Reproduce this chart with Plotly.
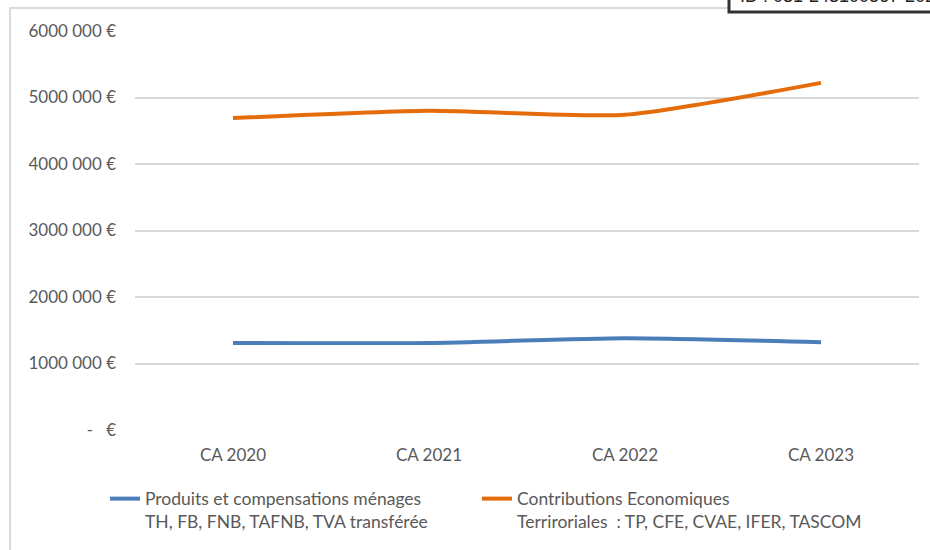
import plotly.graph_objects as go

categories = ["CA 2020", "CA 2021", "CA 2022", "CA 2023"]
menages = [1310000, 1310000, 1380000, 1320000]
economiques = [4690000, 4800000, 4740000, 5220000]
tick_vals = [0, 1000000, 2000000, 3000000, 4000000, 5000000, 6000000]
tick_text = ["-   €", "1000 000 €", "2000 000 €", "3000 000 €", "4000 000 €", "5000 000 €", "6000 000 €"]
name_menages = " <br>Produits et compensations ménages<br>TH, FB, FNB, TAFNB, TVA transférée"
name_eco = " <br>Contributions Economiques<br>Terriroriales  : TP, CFE, CVAE, IFER, TASCOM"

W, H = 930, 550
L, R, T, B = 135, 919, 31, 430

def px(x):
    return (x - L) / (R - L)

def py(y):
    return (B - y) / (B - T)

font = "Lato, 'Open Sans', sans-serif"
grey = "#595959"

fig = go.Figure()
fig.add_trace(go.Scatter(x=categories, y=menages, mode="lines", name=name_menages, legend="legend",
                         line=dict(color="#4A7EBB", width=4, shape="spline", smoothing=0.6)))
fig.add_trace(go.Scatter(x=categories, y=economiques, mode="lines", name=name_eco, legend="legend2",
                         line=dict(color="#E46C0A", width=4, shape="spline", smoothing=0.6)))

leg_common = dict(orientation="h", yanchor="top", xanchor="left", y=py(458),
                  font=dict(size=17.5, color=grey), itemwidth=30, bgcolor="rgba(0,0,0,0)")

fig.update_layout(
    width=W, height=H,
    margin=dict(l=L, r=W - R, t=T, b=H - B, autoexpand=False),
    paper_bgcolor="white", plot_bgcolor="white",
    font=dict(family=font, size=17, color=grey),
    xaxis=dict(showgrid=False, showline=False, ticks="", tickfont=dict(size=17, color=grey),
               range=[-0.5, 3.5], ticklabelstandoff=13, automargin=False),
    yaxis=dict(range=[0, 6000000], tickvals=tick_vals, ticktext=tick_text,
               showgrid=True, gridcolor="#D9D9D9", gridwidth=1.5, zeroline=False,
               ticks="", ticklabelstandoff=18, tickfont=dict(size=17, color=grey),
               automargin=False),
    showlegend=True,
    legend=dict(x=px(105), **leg_common),
    legend2=dict(x=px(477), **leg_common),
    shapes=[
        dict(type="rect", xref="paper", yref="paper", x0=px(10), x1=px(945), y0=py(560), y1=py(8),
             line=dict(color="#D9D9D9", width=2), fillcolor="rgba(0,0,0,0)", layer="below"),
        dict(type="rect", xref="paper", yref="paper", x0=px(729), x1=px(945), y0=py(12), y1=py(-20),
             line=dict(color="#333333", width=3), fillcolor="white", layer="above"),
    ],
    annotations=[
        dict(text="ID : 031-243100567-20240000", xref="paper", yref="paper", x=px(738), y=py(-16),
             xanchor="left", yanchor="top", showarrow=False,
             font=dict(family="Liberation Sans, Arial", size=18, color="#222222")),
    ],
)

fig.write_html("out.html")
